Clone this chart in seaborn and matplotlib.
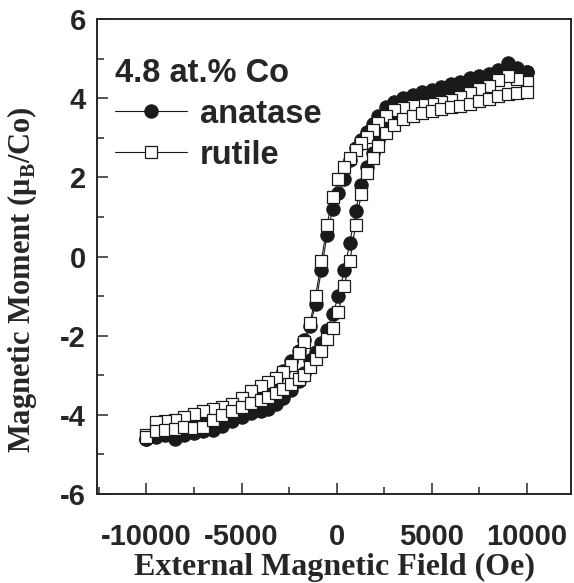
import matplotlib
matplotlib.use("Agg")
import matplotlib.pyplot as plt
import pandas as pd
import seaborn as sns
from matplotlib.ticker import MultipleLocator

# Field sweep: down branch (+10 kOe -> -10 kOe), then up branch back.
H_DOWN = [10000, 9500, 9000, 8500, 8000, 7500, 7000, 6500, 6000, 5500,
          5000, 4500, 4000, 3500, 3000, 2600, 2200, 1900, 1600, 1300,
          1000, 700, 400, 100, -200, -500, -800, -1100, -1400, -1700,
          -2000, -2400, -2800, -3200, -3600, -4000, -4500, -5000, -5500, -6000,
          -6500, -7000, -7500, -8000, -8500, -9000, -9500, -10000]
H_UP = [-10000, -9500, -9000, -8500, -8000, -7500, -7000, -6500, -6000, -5500,
        -5000, -4500, -4000, -3600, -3200, -2800, -2400, -2000, -1700, -1400,
        -1100, -800, -500, -200, 100, 400, 700, 1000, 1300, 1600,
        1900, 2200, 2600, 3000, 3500, 4000, 4500, 5000, 5500, 6000,
        6500, 7000, 7500, 8000, 8500, 9000, 9500, 10000]

# Magnetic moment (mu_B/Co).
ANATASE_DOWN = [4.65, 4.75, 4.90, 4.72, 4.62, 4.55, 4.50, 4.42, 4.35, 4.28,
                4.20, 4.15, 4.08, 4.00, 3.90, 3.78, 3.55, 3.35, 3.15, 2.95,
                2.75, 2.45, 1.95, 1.60, 1.20, 0.55, -0.35, -1.20, -1.75, -2.12,
                -2.38, -2.65, -2.90, -3.10, -3.28, -3.42, -3.58, -3.72, -3.82, -3.92,
                -4.02, -4.10, -4.18, -4.25, -4.32, -4.40, -4.48, -4.60]
ANATASE_UP = [-4.62, -4.55, -4.52, -4.60, -4.50, -4.45, -4.40, -4.38, -4.28, -4.15,
              -4.05, -3.95, -3.90, -3.85, -3.72, -3.57, -3.38, -3.15, -2.95, -2.62,
              -2.42, -2.18, -1.85, -1.45, -1.00, -0.35, 0.35, 1.15, 1.80, 2.25,
              2.62, 2.95, 3.25, 3.50, 3.72, 3.88, 3.98, 4.07, 4.15, 4.23,
              4.30, 4.38, 4.48, 4.55, 4.62, 4.75, 4.70, 4.65]
RUTILE_DOWN = [4.40, 4.48, 4.55, 4.45, 4.32, 4.22, 4.12, 4.02, 3.96, 3.90,
               3.85, 3.82, 3.80, 3.76, 3.70, 3.56, 3.38, 3.20, 3.03, 2.86,
               2.70, 2.48, 2.25, 1.95, 1.50, 0.80, -0.12, -0.99, -1.69, -2.17,
               -2.45, -2.75, -2.93, -3.08, -3.18, -3.28, -3.40, -3.58, -3.72, -3.80,
               -3.86, -3.90, -3.98, -4.05, -4.12, -4.15, -4.18, -4.50]
RUTILE_UP = [-4.55, -4.42, -4.38, -4.35, -4.30, -4.32, -4.30, -4.12, -4.00, -3.90,
             -3.80, -3.70, -3.62, -3.55, -3.45, -3.35, -3.22, -3.10, -3.00, -2.78,
             -2.58, -2.38, -2.08, -1.80, -1.40, -0.75, -0.12, 0.80, 1.58, 2.10,
             2.48, 2.80, 3.12, 3.32, 3.47, 3.56, 3.62, 3.67, 3.72, 3.77,
             3.81, 3.86, 3.92, 3.98, 4.05, 4.10, 4.12, 4.15]

LEGEND_TITLE = "4.8 at.% Co"
X_TICKS = [-10000, -5000, 0, 5000, 10000]
Y_TICKS = [-6, -4, -2, 0, 2, 4, 6]


def _loop(down, up):
    """Join the two sweep branches into one ordered frame."""
    return pd.DataFrame({"H": H_DOWN + H_UP, "M": down + up})


def main():
    sns.set_theme(style="ticks")
    plt.rcParams["font.family"] = ["Liberation Sans", "DejaVu Sans"]
    plt.rcParams["mathtext.fontset"] = "custom"
    plt.rcParams["mathtext.rm"] = "Liberation Serif:bold"
    plt.rcParams["mathtext.bf"] = "Liberation Serif:bold"
    plt.rcParams["axes.linewidth"] = 1.4
    plt.rcParams["axes.unicode_minus"] = False

    fig = plt.figure(figsize=(5.74, 5.83), dpi=100)
    ax = fig.add_axes([97 / 574, 1 - 494 / 583, 474 / 574, 475 / 583])

    line_kw = dict(x="H", y="M", sort=False, estimator=None, ax=ax,
                   color="k", linewidth=0.8)
    sns.lineplot(data=_loop(ANATASE_DOWN, ANATASE_UP), marker="o",
                 markersize=9.6, markerfacecolor="k", markeredgecolor="k",
                 markeredgewidth=0.8, label="anatase", **line_kw)
    sns.lineplot(data=_loop(RUTILE_DOWN, RUTILE_UP), marker="s",
                 markersize=8.8, markerfacecolor="white", markeredgecolor="k",
                 markeredgewidth=0.9, label="rutile", **line_kw)

    ax.set_xlim(-12600, 12330)
    ax.set_ylim(-6, 6)
    ax.set_xticks(X_TICKS)
    ax.set_yticks(Y_TICKS)
    ax.xaxis.set_minor_locator(MultipleLocator(2500))
    ax.yaxis.set_minor_locator(MultipleLocator(1))
    ax.tick_params(which="both", direction="in", width=1.1,
                   top=False, right=False, labelsize=21)
    ax.tick_params(which="major", length=8)
    ax.tick_params(which="minor", length=5)
    ax.tick_params(axis="x", pad=21)
    ax.tick_params(axis="y", pad=8)
    for lab in ax.get_xticklabels() + ax.get_yticklabels():
        lab.set_fontweight("bold")

    serif = dict(family="Liberation Serif", weight="bold")
    ax.set_xlabel("External Magnetic Field (Oe)", fontsize=23, **serif)
    ax.set_ylabel(r"Magnetic Moment (μ$_\mathbf{B}$/Co)", fontsize=22, **serif)
    # x label hangs from its top edge, y label sits on its right edge
    ax.xaxis.set_label_coords(0.5, (494 - 553) / 475)
    ax.yaxis.set_label_coords((39 - 97) / 474, (494 - 280) / 475)

    ax.legend(title=LEGEND_TITLE, loc="upper left",
              bbox_to_anchor=(18 / 474, 1 - 39 / 475), frameon=False,
              alignment="left", handlelength=2.2, handletextpad=0.4,
              labelspacing=0.3, borderpad=0, borderaxespad=0,
              prop=dict(size=23.5, weight="bold"),
              title_fontproperties=dict(size=23.5, weight="bold"))

    fig.savefig("out.png", dpi=100)
    plt.close(fig)


if __name__ == "__main__":
    main()
